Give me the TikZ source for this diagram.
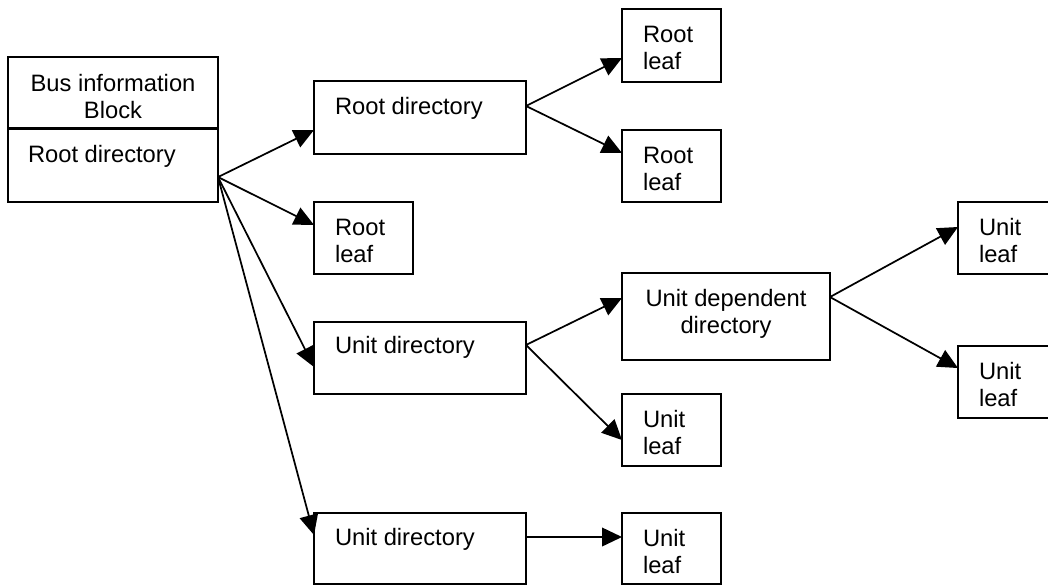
\documentclass[tikz,border=0pt]{standalone}
\usepackage{fontspec}
\setmainfont{Liberation Sans}
\usetikzlibrary{arrows.meta,calc}

% two stacked lines whose baseline is the first line's baseline
\newcommand\twoline[3][l]{\begin{tabular}[t]{@{}#1@{}}#2\\#3\end{tabular}}
% rectangle node given by its corners (x1,y1) and (x2,y2)
\newcommand\pxbox[5]{\node[box, minimum width={(#4-(#2))*0.75pt}, minimum height={(#5-(#3))*0.75pt}] (#1) at ({(#2+#4)/2},{(#3+#5)/2}) {};}

\begin{document}
\begin{tikzpicture}[
  x=0.75pt, y=-0.75pt,
  font=\fontsize{17.8}{20.25}\selectfont,
  box/.style={draw, line width=1.4pt, inner sep=0pt, outer sep=0pt},
  lbl/.style={inner sep=0pt, outer sep=0pt, anchor=base west},
  clbl/.style={inner sep=0pt, outer sep=0pt, anchor=base},
  arr/.style={line width=1.3pt, -{Triangle[length=15pt,width=14pt]}}
]
\useasboundingbox (0,0) rectangle (1048,586);
\fill[white] (0,0) rectangle (1048,586);
\clip (0,0) rectangle (1048,586);

% boxes
\pxbox{bib}{8}{57}{218}{202}
\pxbox{rd}{314}{81}{526}{154}
\pxbox{rl1}{622}{9}{721}{82}
\pxbox{rl2}{622}{130}{721}{202}
\pxbox{rl3}{314}{202}{413}{274}
\pxbox{ud1}{314}{322}{526}{394}
\pxbox{udd}{622}{273}{830}{360}
\pxbox{ul1}{958}{202}{1057}{274}
\pxbox{ul2}{958}{346}{1057}{418}
\pxbox{ul3}{622}{394}{721}{466}
\pxbox{ud2}{314}{513}{526}{584}
\pxbox{ul4}{622}{513}{721}{584}

% bus information block divider
\draw[line width=1.6pt] ($(bib.north west)!0.493!(bib.south west)$) -- ($(bib.north east)!0.493!(bib.south east)$);

% labels
\node[clbl] (bib-t) at (113,91.5) {\twoline[c]{Bus information}{Block}};
\node[lbl] (bib-r) at (28,162) {Root directory};
\node[lbl] (rd-t) at (335,114) {Root directory};
\node[lbl] (rl1-t) at (643,42) {\twoline{Root}{leaf}};
\node[lbl] (rl2-t) at (643,163) {\twoline{Root}{leaf}};
\node[lbl] (rl3-t) at (335,235) {\twoline{Root}{leaf}};
\node[lbl] (ud1-t) at (335,353) {Unit directory};
\node[clbl] (udd-t) at (726,306) {\twoline[c]{Unit dependent}{directory}};
\node[lbl] (ul1-t) at (979,235) {\twoline{Unit}{leaf}};
\node[lbl] (ul2-t) at (979,379) {\twoline{Unit}{leaf}};
\node[lbl] (ul3-t) at (643,427) {\twoline{Unit}{leaf}};
\node[lbl] (ud2-t) at (335,545) {Unit directory};
\node[lbl] (ul4-t) at (643,546) {\twoline{Unit}{leaf}};

% fork points on the right sides
\coordinate (bibout) at ($(bib.north east)!0.828!(bib.south east)$);
\coordinate (rdout) at ($(rd.north east)!0.342!(rd.south east)$);
\coordinate (udout) at ($(ud1.north east)!0.319!(ud1.south east)$);
\coordinate (uddout) at ($(udd.north east)!0.276!(udd.south east)$);

% connectors
\draw[arr] (bibout) -- ($(rd.north west)!0.671!(rd.south west)$);
\draw[arr] (bibout) -- ($(rl3.north west)!0.319!(rl3.south west)$);
\draw[arr] (bibout) -- ($(ud1.north west)!0.625!(ud1.south west)$);
\draw[arr] (bibout) -- ($(ud2.north west)!0.31!(ud2.south west)$);
\draw[arr] (rdout) -- ($(rl1.north west)!0.671!(rl1.south west)$);
\draw[arr] (rdout) -- ($(rl2.north west)!0.319!(rl2.south west)$);
\draw[arr] (udout) -- ($(udd.north west)!0.287!(udd.south west)$);
\draw[arr] (udout) -- ($(ul3.north west)!0.639!(ul3.south west)$);
\draw[arr] (uddout) -- ($(ul1.north west)!0.347!(ul1.south west)$);
\draw[arr] (uddout) -- ($(ul2.north west)!0.306!(ul2.south west)$);
\draw[arr] ($(ud2.north east)!0.338!(ud2.south east)$) -- ($(ul4.north west)!0.338!(ul4.south west)$);
\end{tikzpicture}
\end{document}
